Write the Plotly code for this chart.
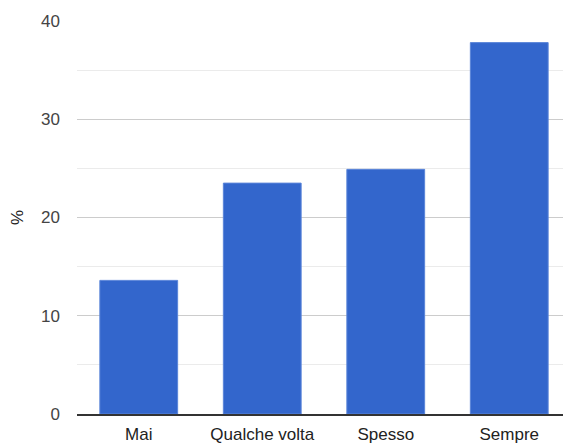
import plotly.graph_objects as go

categories = ["Mai", "Qualche volta", "Spesso", "Sempre"]
values = [13.6, 23.5, 24.9, 37.8]
y_ticks = [0, 10, 20, 30, 40]

fig = go.Figure()

fig.add_trace(go.Bar(
    x=categories,
    y=values,
    marker_color="#3366cc",
    marker_line_color="#5a85d9",
    marker_line_width=1,
    hovertemplate="<b>%{x}</b><br>%{y}<extra></extra>"
))

# page body has an 8px margin, so shrink the figure to fit the window
fig.update_layout(
    width=563,
    height=437,
    font=dict(family="Liberation Sans, Arial, sans-serif", size=17, color="#444444"),
    plot_bgcolor="white",
    paper_bgcolor="white",
    showlegend=False,
    bargap=0.37,
    margin=dict(l=69, r=0, t=13, b=31, pad=0),
    xaxis=dict(
        showgrid=False,
        showline=True,
        linecolor="#333333",
        linewidth=2,
        tickfont=dict(color="#222222"),
        ticks="",
        ticklabelstandoff=4,
    ),
    yaxis=dict(
        range=[0, 40],
        tickvals=y_ticks,
        showgrid=True,
        gridcolor="#cccccc",
        gridwidth=1,
        zeroline=False,
        ticks="",
        ticklabelstandoff=16,
        minor=dict(dtick=5, showgrid=True, gridcolor="#ebebeb", gridwidth=1),
        title=dict(text="%", font=dict(color="#222222", size=17), standoff=20),
    ),
)

fig.write_html("out.html")
